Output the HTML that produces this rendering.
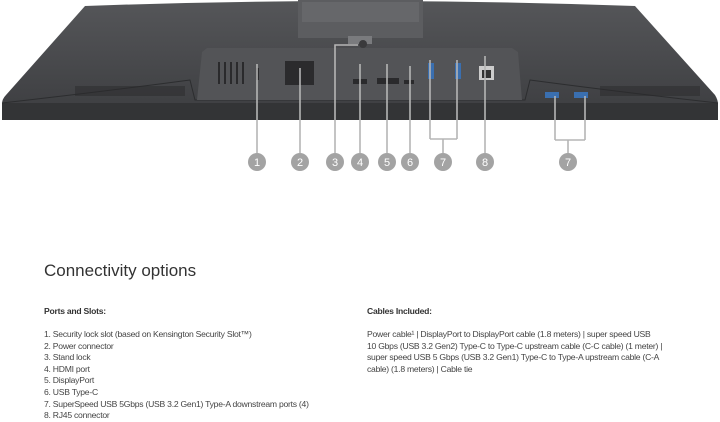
<!DOCTYPE html>
<html><head><style>
body{margin:0;width:720px;height:419px;background:#fff;overflow:hidden;font-family:"Liberation Sans",sans-serif;position:relative}
.t{position:absolute;color:#444;font-size:8.6px;line-height:11.6px;white-space:nowrap;letter-spacing:-0.25px}
</style></head><body>
<svg width="720" height="419" style="position:absolute;left:0;top:0">
<defs><linearGradient id="g" x1="0" y1="0" x2="0" y2="1"><stop offset="0" stop-color="#555659"/><stop offset="1" stop-color="#3c3d40"/></linearGradient></defs>
<path d="M85 6 Q360 -4 635 6 L715 95 Q718 100 718 104 L718 120 L2 120 L2 104 Q2 99 6 95 Z" fill="url(#g)"/>
<rect x="2" y="103" width="716" height="17" fill="#333436"/>
<path d="M2 103 Q100 92 190 80 L195 100 L525 100 L530 80 Q620 92 718 103" fill="none" stroke="#2c2d2f" stroke-width="1"/>
<rect x="298" y="0" width="125" height="38" fill="#5c5d60"/>
<rect x="302" y="2" width="117" height="20" fill="#66676a"/>
<rect x="348" y="36" width="24" height="8" fill="#7a7b7e"/>
<path d="M207 48 L512 48 L518 52 L522 100 L197 100 L202 52 Z" fill="#535457"/>
<g fill="#2a2a2c">
<rect x="218" y="62" width="2" height="22"/><rect x="224" y="62" width="2" height="22"/><rect x="230" y="62" width="2" height="22"/><rect x="236" y="62" width="2" height="22"/><rect x="242" y="62" width="2" height="22"/>
<rect x="256" y="68" width="3" height="12"/>
<rect x="285" y="61" width="29" height="24" fill="#2b2b2d"/>
<rect x="353" y="79" width="14" height="5"/><rect x="377" y="78" width="22" height="6"/><rect x="404" y="80" width="10" height="4"/>
<rect x="479" y="66" width="15" height="14" fill="#ccc"/><rect x="482" y="70" width="9" height="8" fill="#333"/>
<rect x="545" y="92" width="14" height="6" fill="#3a6fb0"/><rect x="574" y="92" width="14" height="6" fill="#3a6fb0"/>
<rect x="600" y="86" width="100" height="10" opacity=".5"/><rect x="75" y="86" width="110" height="10" opacity=".5"/>
</g>
<rect x="428" y="63" width="6" height="16" fill="#3a6fb0"/><rect x="455" y="63" width="6" height="16" fill="#3a6fb0"/>
<circle cx="363" cy="44" r="4" fill="#3a3a3c"/>
<g stroke="#b5b5b5" stroke-width="1.6" fill="none">
<path d="M257 153V64"/><path d="M300 153V68"/><path d="M335 153V45H358"/><path d="M360 153V64"/><path d="M387 153V64"/><path d="M410 153V66"/>
<path d="M443 153V139M430 139H457M430 139V60M457 139V60"/><path d="M485 153V56"/>
<path d="M568 153V140M555 140H585M555 140V96M585 140V96"/>
</g>
<g fill="#a3a3a3">
<circle cx="257" cy="162" r="9"/><circle cx="300" cy="162" r="9"/><circle cx="335" cy="162" r="9"/><circle cx="360" cy="162" r="9"/><circle cx="387" cy="162" r="9"/><circle cx="410" cy="162" r="9"/><circle cx="443" cy="162" r="9"/><circle cx="485" cy="162" r="9"/><circle cx="568" cy="162" r="9"/>
</g>
<g fill="#fff" font-size="11" font-family="Liberation Sans" text-anchor="middle">
<text x="257" y="166">1</text><text x="300" y="166">2</text><text x="335" y="166">3</text><text x="360" y="166">4</text><text x="387" y="166">5</text><text x="410" y="166">6</text><text x="443" y="166">7</text><text x="485" y="166">8</text><text x="568" y="166">7</text>
</g>
</svg>
<div class="t" style="left:44px;top:260px;font-size:17px;line-height:22px;color:#333;letter-spacing:0">Connectivity options</div>
<div class="t" style="left:44px;top:306px;font-weight:bold;color:#333">Ports and Slots:</div>
<div class="t" style="left:44px;top:329px">1. Security lock slot (based on Kensington Security Slot™)<br>2. Power connector<br>3. Stand lock<br>4. HDMI port<br>5. DisplayPort<br>6. USB Type-C<br>7. SuperSpeed USB 5Gbps (USB 3.2 Gen1) Type-A downstream ports (4)<br>8. RJ45 connector</div>
<div class="t" style="left:367px;top:306px;font-weight:bold;color:#333">Cables Included:</div>
<div class="t" style="left:367px;top:329px">Power cable¹ | DisplayPort to DisplayPort cable (1.8 meters) | super speed USB<br>10 Gbps (USB 3.2 Gen2) Type-C to Type-C upstream cable (C-C cable) (1 meter) |<br>super speed USB 5 Gbps (USB 3.2 Gen1) Type-C to Type-A upstream cable (C-A<br>cable) (1.8 meters) | Cable tie</div>
</body></html>
